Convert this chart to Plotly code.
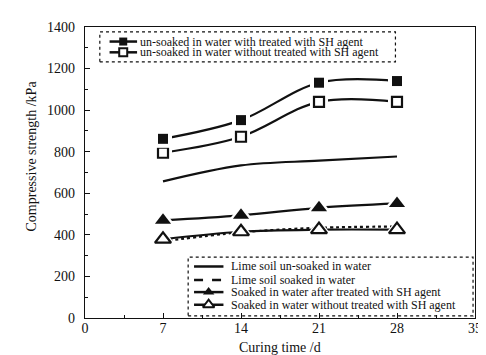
import plotly.graph_objects as go

days = [7, 14, 21, 28]
unsoaked_sh = [862, 952, 1132, 1140]
unsoaked_nosh = [795, 872, 1040, 1040]
lime_unsoaked = [657, 734, 757, 777]
soaked_sh = [470, 494, 530, 551]
soaked_nosh = [379, 415, 425, 425]
lime_soaked = [369, 412, 434, 440]

x_ticks = [0, 7, 14, 21, 28, 35]
y_ticks = [0, 200, 400, 600, 800, 1000, 1200, 1400]

top_legend = ["un-soaked in water with treated with SH agent",
              "un-soaked in water without treated with SH agent"]
bottom_legend = ["Lime soil un-soaked in water",
                 "Lime soil soaked in water",
                 "Soaked in water after treated with SH agent",
                 "Soaked in water without treated with SH agent"]

FONT = "Liberation Serif"
BLACK = "#111111"

fig = go.Figure()

def add_series(y, dash="solid", symbol=None, filled=True, size=9):
    fig.add_trace(go.Scatter(x=days, y=y, mode="lines", showlegend=False,
                             line=dict(color=BLACK, width=2.2, dash=dash, shape="spline", smoothing=1)))
    if symbol:
        fig.add_trace(go.Scatter(x=days, y=y, mode="markers", showlegend=False,
                                 marker=dict(symbol=symbol, size=size + 8, color="white", line=dict(width=0))))
        fig.add_trace(go.Scatter(x=days, y=y, mode="markers", showlegend=False,
                                 marker=dict(symbol=symbol, size=size,
                                             color=BLACK if filled else "white",
                                             line=dict(color=BLACK, width=0 if filled else 2.2))))

add_series(lime_unsoaked)
add_series(lime_soaked, dash="dot")
add_series(soaked_nosh, symbol="triangle-up", filled=False, size=14)
add_series(soaked_sh, symbol="triangle-up", filled=True, size=14)
add_series(unsoaked_nosh, symbol="square", filled=False, size=10)
add_series(unsoaked_sh, symbol="square", filled=True, size=10)

# custom legends drawn on an overlay axis spanning the plot area [0,1]
def legend_item(y, x0, x1, xm, label, tx, dash="solid", symbol=None, filled=True, size=7):
    fig.add_trace(go.Scatter(x=[x0, x1], y=[y, y], mode="lines", xaxis="x2", yaxis="y2",
                             showlegend=False, line=dict(color=BLACK, width=2.5, dash=dash)))
    if symbol:
        fig.add_trace(go.Scatter(x=[xm], y=[y], mode="markers", xaxis="x2", yaxis="y2", showlegend=False,
                                 marker=dict(symbol=symbol, size=size,
                                             color=BLACK if filled else "white",
                                             line=dict(color=BLACK, width=0 if filled else 2))))
    fig.add_annotation(x=tx, y=y, xref="paper", yref="paper", text=label, showarrow=False,
                       xanchor="left", yanchor="middle", font=dict(family=FONT, size=12, color=BLACK))

legend_item(0.950, 0.063, 0.1335, 0.098, top_legend[0], 0.137, symbol="square", filled=True, size=8)
legend_item(0.913, 0.063, 0.1335, 0.098, top_legend[1], 0.137, symbol="square", filled=False, size=8)
legend_item(0.177, 0.2796, 0.355, 0.317, bottom_legend[0], 0.368)
legend_item(0.131, 0.2796, 0.355, 0.317, bottom_legend[1], 0.368, dash="dash")
legend_item(0.089, 0.2796, 0.355, 0.317, bottom_legend[2], 0.368, symbol="triangle-up", filled=True, size=10)
legend_item(0.0455, 0.2796, 0.355, 0.317, bottom_legend[3], 0.368, symbol="triangle-up", filled=False, size=10)

fig.add_shape(type="rect", xref="paper", yref="paper", x0=0.038, x1=0.796, y0=0.880, y1=0.983,
              line=dict(color=BLACK, width=1.2, dash="dot"), fillcolor="rgba(0,0,0,0)")
fig.add_shape(type="rect", xref="paper", yref="paper", x0=0.2645, x1=0.995, y0=0.007, y1=0.209,
              line=dict(color=BLACK, width=1.2, dash="dot"), fillcolor="rgba(0,0,0,0)")

# axis titles
fig.add_annotation(x=0, y=0.555, xref="paper", yref="paper", text="Compressive strength /kPa",
                   textangle=-90, showarrow=False, xanchor="center", yanchor="middle", xshift=-54,
                   font=dict(family=FONT, size=14, color=BLACK))
fig.add_annotation(x=0.5, y=-0.103, xref="paper", yref="paper", text="Curing time /d",
                   showarrow=False, xanchor="center", yanchor="middle",
                   font=dict(family=FONT, size=14, color=BLACK))

axis_common = dict(showgrid=False, zeroline=False, showline=True, linecolor=BLACK, linewidth=1.3,
                   mirror=True, ticks="inside", ticklen=5, tickwidth=1.2, tickcolor=BLACK,
                   tickfont=dict(family=FONT, size=14, color=BLACK))

fig.update_layout(
    width=486, height=355,
    margin=dict(l=77, r=12, t=18, b=45),
    paper_bgcolor="white", plot_bgcolor="white",
    showlegend=False,
    font=dict(family=FONT, color=BLACK),
    xaxis=dict(range=[0, 35], tickvals=x_ticks, ticktext=[str(v) for v in x_ticks],
               minor=dict(dtick=3.5, tick0=0, ticks="inside", ticklen=3, tickcolor=BLACK),
               ticklabelstandoff=-3, **axis_common),
    yaxis=dict(range=[0, 1400], tickvals=y_ticks, ticktext=[str(v) for v in y_ticks],
               minor=dict(dtick=100, tick0=0, ticks="inside", ticklen=3, tickcolor=BLACK),
               ticklabelstandoff=6, **axis_common),
    xaxis2=dict(range=[0, 1], overlaying="x", anchor="y2", visible=False),
    yaxis2=dict(range=[0, 1], overlaying="y", anchor="x2", visible=False),
)

fig.write_html("out.html")
